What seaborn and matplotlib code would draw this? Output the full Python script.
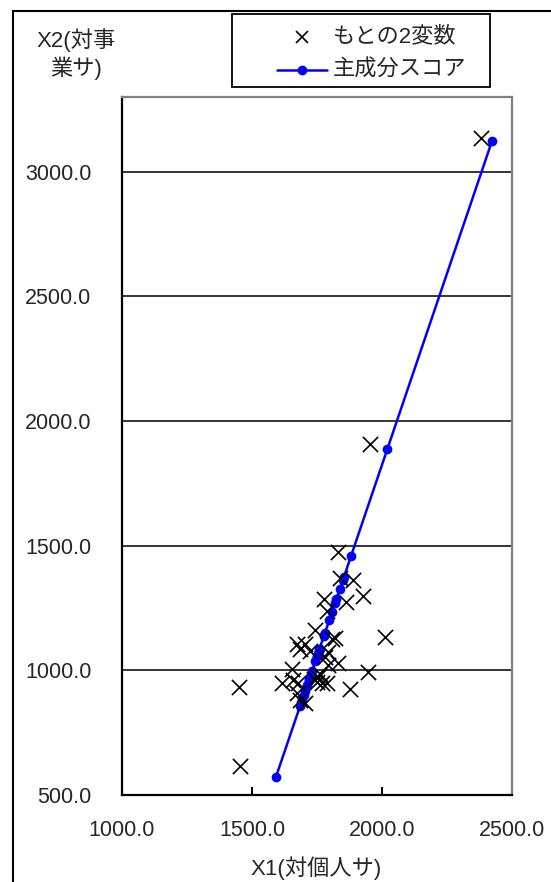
"""
Principal component score vs. original two variables (X1, X2).
"""

import pandas as pd
import matplotlib.pyplot as plt
import seaborn as sns
from matplotlib.lines import Line2D
from matplotlib.patches import Rectangle

# -------------------------
# Data
# -------------------------
x1_orig = [2381, 1954, 1831, 1454, 1450, 1838, 1888, 1927, 1777, 1862,
           1790, 2012, 1742, 1819, 1673, 1704, 1685, 1723, 1808, 1781,
           1831, 1792, 1946, 1654, 1615, 1658, 1677, 1750, 1769, 1788,
           1754, 1877, 1673, 1685, 1704, 1792, 1762, 1740]
x2_orig = [3136, 1910, 1474, 616, 933, 1369, 1361, 1297, 1285, 1273,
           1240, 1133, 1161, 1129, 1105, 1105, 1085, 1077, 1125, 1053,
           1029, 1021, 993, 1005, 949, 961, 949, 953, 949, 949,
           973, 925, 909, 881, 869, 1073, 985, 965]

x1_score = [2423, 2021, 1881, 1592, 1685, 1850, 1853, 1838, 1820, 1824,
            1808, 1798, 1780, 1778, 1757, 1760, 1752, 1753, 1776, 1752,
            1750, 1743, 1750, 1725, 1705, 1713, 1711, 1719, 1720, 1722,
            1726, 1723, 1699, 1692, 1690, 1759, 1730, 1722]
x2_score = [3123, 1889, 1459, 572, 857, 1364, 1373, 1327, 1272, 1286,
            1235, 1204, 1149, 1143, 1078, 1087, 1063, 1066, 1137, 1063,
            1057, 1036, 1057, 980, 919, 943, 937, 962, 965, 971,
            983, 974, 900, 879, 873, 1085, 996, 971]

x_ticks = [1000, 1500, 2000, 2500]
y_ticks = [500, 1000, 1500, 2000, 2500, 3000]

label_orig = "もとの2変数"
label_score = "主成分スコア"
x_label = "X1(対個人サ)"
y_label_lines = ["X2(対事", "業サ)"]

W, H = 551, 882
BLUE = "#0000ff"
FONTS = ["Liberation Sans", "Noto Sans CJK JP", "DejaVu Sans"]


def fx(px):
    return px / W


def fy(py):
    return 1 - py / H


def main():
    sns.set_style("white")
    plt.rcParams["font.family"] = FONTS

    df_orig = pd.DataFrame({"x1": x1_orig, "x2": x2_orig})
    df_score = pd.DataFrame({"x1": x1_score, "x2": x2_score}).sort_values("x1")

    fig = plt.figure(figsize=(W / 100, H / 100), dpi=100)
    ax = fig.add_axes([fx(122), fy(795), (512 - 122) / W, (795 - 97) / H])

    # gridlines
    ax.set_axisbelow(True)
    ax.yaxis.grid(True, color="black", linewidth=1.1)
    ax.xaxis.grid(False)

    sns.lineplot(data=df_score, x="x1", y="x2", ax=ax, color=BLUE,
                 linewidth=1.8, marker="o", markersize=7,
                 markeredgewidth=0, estimator=None, sort=False, zorder=3)
    sns.scatterplot(data=df_orig, x="x1", y="x2", ax=ax, marker="x",
                    color="black", s=120, linewidth=1.2, zorder=4)

    ax.set_xlim(1000, 2500)
    ax.set_ylim(500, 3300)
    ax.set_xticks(x_ticks)
    ax.set_yticks(y_ticks)
    ax.set_xticklabels([f"{v}.0" for v in x_ticks], fontsize=15.5)
    ax.set_yticklabels([f"{v}.0" for v in y_ticks], fontsize=15.5)
    ax.tick_params(axis="x", direction="in", length=6, width=1.4,
                   color="black", pad=18, bottom=True)
    ax.tick_params(axis="y", length=0, pad=22)
    ax.set_xlabel("")
    ax.set_ylabel("")

    for side in ["left", "bottom"]:
        ax.spines[side].set_color("black")
        ax.spines[side].set_linewidth(1.6)
    for side in ["top", "right"]:
        ax.spines[side].set_visible(True)
        ax.spines[side].set_color("#808080")
        ax.spines[side].set_linewidth(1.6)

    # axis titles
    fig.text(fx(316), fy(868), x_label, ha="center", va="center",
             fontsize=16)
    fig.text(fx(76), fy(40), y_label_lines[0], ha="center", va="center",
             fontsize=16)
    fig.text(fx(76), fy(68), y_label_lines[1], ha="center", va="center",
             fontsize=16)

    # legend box above the plot area
    fig.patches.append(Rectangle((fx(232), fy(87)), (490 - 232) / W,
                                 (87 - 14) / H, transform=fig.transFigure,
                                 fill=False, edgecolor="black",
                                 linewidth=1.3))
    fig.add_artist(Line2D([fx(302)], [fy(37)], linestyle="none", marker="x",
                          color="black", markersize=9, markeredgewidth=1.2,
                          transform=fig.transFigure))
    fig.add_artist(Line2D([fx(277), fx(327)], [fy(70), fy(70)], color=BLUE,
                          linewidth=1.8, transform=fig.transFigure))
    fig.add_artist(Line2D([fx(302)], [fy(70)], linestyle="none", marker="o",
                          color=BLUE, markersize=7, markeredgewidth=0,
                          transform=fig.transFigure))
    fig.text(fx(333), fy(37), label_orig, ha="left", va="center", fontsize=16)
    fig.text(fx(333), fy(70), label_score, ha="left", va="center",
             fontsize=16)

    # chart area border
    fig.patches.append(Rectangle((fx(13), -0.1), 1.0, fy(11) + 0.1,
                                 transform=fig.transFigure, fill=False,
                                 edgecolor="black", linewidth=1.5))

    fig.savefig("out.png", dpi=100)
    plt.close(fig)


if __name__ == "__main__":
    main()
